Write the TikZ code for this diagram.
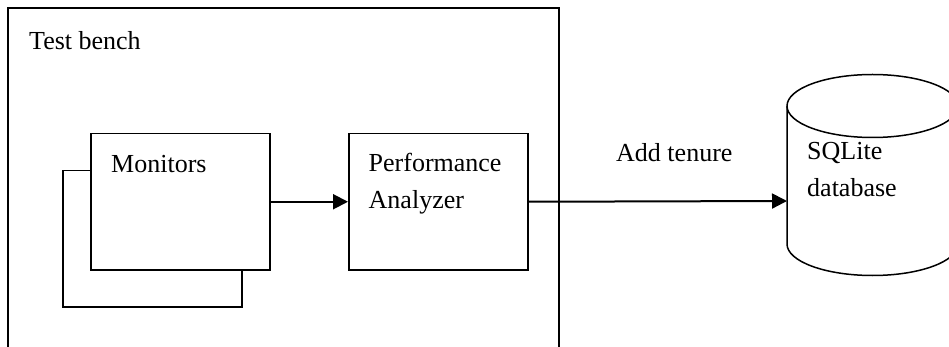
\documentclass[tikz,border=0pt]{standalone}
\usepackage{fontspec}
\setmainfont{Liberation Serif}
\usetikzlibrary{arrows.meta}
\tikzset{
  boxline/.style={draw=black, line width=1.5pt},
  blk/.style={boxline, fill=white, minimum width=179pt, minimum height=136pt, inner sep=0pt, anchor=north west},
  lbl/.style={inner sep=0pt, anchor=base west, font=\fontsize{26}{37}\selectfont, align=left},
  conn/.style={line width=2pt, -{Triangle[length=15pt,width=15pt]}}
}
\begin{document}
\begin{tikzpicture}[x=1pt,y=-1pt]
\useasboundingbox (0,0) rectangle (949,347);
\begin{scope}
\clip (0,0) rectangle (949,347);
% test bench frame
\draw[line width=2pt] (8,8) rectangle (559,400);
\node[lbl] (tb) at (29,50) {Test bench};
% monitors (stacked)
\node[blk] (mon2) at (62,170) {};
\node[blk] (mon) at (90,133) {};
\node[lbl] (monl) at (111,173) {Monitors};
% performance analyzer
\node[blk] (pa) at (348,133) {};
\node[lbl] (pal) at (368.5,209) {Performance\\Analyzer};
% database cylinder
\draw[boxline, fill=white] (787,106) -- (787,244) arc[start angle=180, end angle=0, x radius=85.5, y radius=31.5] -- (958,106);
\draw[boxline, fill=white] (872.5,106) ellipse [x radius=85.5, y radius=31.5];
\coordinate (db) at (787,201);
\node[lbl] (dbl) at (807,197) {SQLite\\database};
% connectors
\draw[conn] (mon.east) -- (pa.west);
\draw[conn] (pa.east) -- (db);
\node[lbl] (addl) at (616,162) {Add tenure};
\end{scope}
\end{tikzpicture}
\end{document}
